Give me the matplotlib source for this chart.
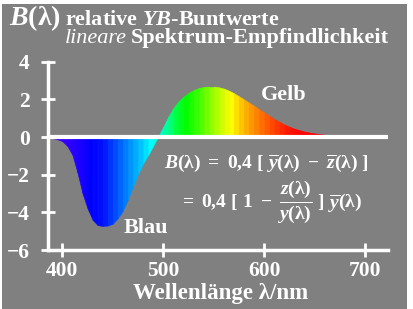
import numpy as np
import matplotlib
matplotlib.use('Agg')
import matplotlib.pyplot as plt
from matplotlib.patches import Rectangle
from matplotlib.colors import to_rgb

# B(lambda), 5 nm steps
wavelengths = [385, 390, 395, 400, 405, 410, 415, 420, 425, 430, 435, 440,
               445, 450, 455, 460, 465, 470, 475, 480, 485, 490, 495, 500,
               505, 510, 515, 520, 525, 530, 535, 540, 545, 550, 555, 560,
               565, 570, 575, 580, 585, 590, 595, 600, 605, 610, 615, 620,
               625, 630, 635, 640, 645, 650, 655, 660, 665, 670, 675, 680,
               685, 690, 695, 700]
b_values = [0.0, -0.05, -0.12, -0.22, -0.48, -0.95, -1.9, -3.0, -3.8, -4.4,
            -4.68, -4.72, -4.7, -4.6, -4.3, -3.9, -3.3, -2.6, -1.95, -1.4,
            -0.95, -0.45, 0.05, 0.55, 1.1, 1.55, 1.9, 2.15, 2.35, 2.5, 2.6,
            2.66, 2.68, 2.68, 2.64, 2.57, 2.46, 2.32, 2.16, 1.99, 1.82, 1.65,
            1.47, 1.3, 1.12, 0.95, 0.8, 0.66, 0.54, 0.44, 0.36, 0.29, 0.23,
            0.19, 0.15, 0.12, 0.10, 0.08, 0.06, 0.05, 0.035, 0.02, 0.01, 0.0]

x_ticks = [400, 500, 600, 700]
y_ticks = [-6, -4, -2, 0, 2, 4]

# spectrum colour anchors
spec_wl = [385, 400, 415, 428, 440, 450, 460, 470, 480, 488, 495, 505, 512,
           522, 535, 545, 555, 567, 575, 585, 595, 610, 625, 640, 670, 700]
spec_col = ['#4800ff', '#3800ff', '#2000ff', '#0000ff', '#0010ff', '#0040ff',
            '#0070ff', '#00a0ff', '#00d0ff', '#00ffff', '#00ffd0', '#00ff90',
            '#00ff40', '#00ff00', '#40ff00', '#80ff00', '#c0ff00', '#ffff00',
            '#ffd000', '#ffa000', '#ff7800', '#ff4000', '#ff1000', '#ff0000',
            '#f00010', '#d00030']
spec_rgb = np.array([to_rgb(c) for c in spec_col])


def spec_color(wl):
    return tuple(np.interp(wl, spec_wl, spec_rgb[:, i]) for i in range(3))


W, H = 413, 309
plt.rcParams['mathtext.fontset'] = 'custom'
plt.rcParams['mathtext.rm'] = 'Liberation Serif:bold'
plt.rcParams['mathtext.it'] = 'Liberation Serif:italic:bold'
plt.rcParams['mathtext.bf'] = 'Liberation Serif:bold'
plt.rcParams['font.family'] = 'Liberation Serif'

fig = plt.figure(figsize=(W / 100, H / 100), dpi=100, facecolor='white')
fig.patches.append(Rectangle((2 / W, 0), 405 / W, 1 - 4 / H,
                             transform=fig.transFigure, facecolor='#808080',
                             edgecolor='none', zorder=-10))


def fx(x):
    return x / W


def fy(y):
    return 1 - y / H


ax = fig.add_axes([fx(47.7), fy(250), fx(387.7) - fx(47.7), fy(61.7) - fy(250)])
ax.set_facecolor('none')

wl = np.array(wavelengths, dtype=float)
bv = np.array(b_values)
for i in range(len(wl) - 1):
    c = spec_color((wl[i] + wl[i + 1]) / 2)
    ax.fill_between(wl[i:i + 2], bv[i:i + 2], 0, facecolor=c, edgecolor=c,
                    linewidth=0.4)

ax.axhline(0, color='white', lw=3)
ax.set_xlim(385.5, 722)
ax.set_ylim(-6, 4)
ax.set_xticks(x_ticks)
ax.set_yticks(y_ticks)
for s in ['top', 'right']:
    ax.spines[s].set_visible(False)
for s in ['left', 'bottom']:
    ax.spines[s].set_color('white')
    ax.spines[s].set_linewidth(2.5)
ax.tick_params(axis='both', direction='inout', length=10, width=2,
               colors='white', labelsize=15.5)
ax.tick_params(axis='y', pad=8)
ax.tick_params(axis='x', pad=3)
for lab in ax.get_xticklabels() + ax.get_yticklabels():
    lab.set_fontweight('bold')
    lab.set_color('white')

wt = dict(color='white', fontweight='bold')
fig.text(fx(9), fy(25), r'$B$(λ)', fontsize=20, va='baseline', **wt)
fig.text(fx(65), fy(25), r'relative $YB$-Buntwerte', fontsize=16,
         va='baseline', **wt)
fig.text(fx(65), fy(43), 'lineare', fontsize=16, va='baseline',
         color='white', style='italic')
fig.text(fx(131), fy(43), 'Spektrum-Empfindlichkeit', fontsize=16,
         va='baseline', **wt)

fig.text(fx(221), fy(299), 'Wellenlänge λ/nm', fontsize=16.5, ha='center',
         va='baseline', **wt)
fig.text(fx(284), fy(100), 'Gelb', fontsize=16, ha='center', va='baseline', **wt)
fig.text(fx(146), fy(233), 'Blau', fontsize=16, ha='center', va='baseline', **wt)

fig.text(fx(266), fy(163),
         r'$B(\mathrm{\lambda})\ =\ 0{,}4\ [\ \overline{y}(\mathrm{\lambda})'
         r'\ -\ \overline{z}(\mathrm{\lambda})\ ]$',
         fontsize=14, ha='center', va='center', color='white')
fig.text(fx(270), fy(202),
         r'$=\ 0{,}4\ [\ 1\ -\ \dfrac{z(\mathrm{\lambda})}{y(\mathrm{\lambda})}'
         r'\ ]\ \overline{y}(\mathrm{\lambda})$',
         fontsize=14, ha='center', va='center', color='white')

fig.savefig('out.png', dpi=100, facecolor=fig.get_facecolor())
